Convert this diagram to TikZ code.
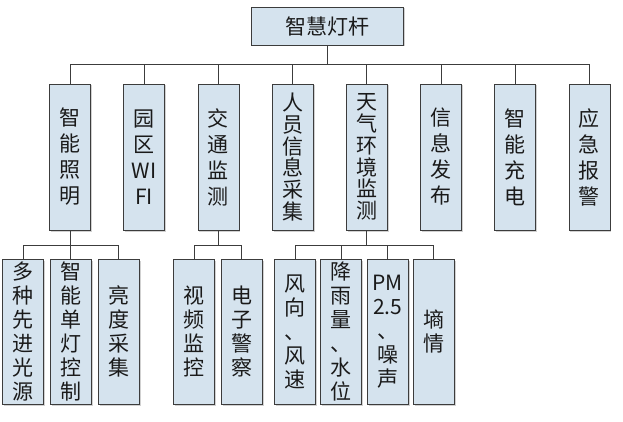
\documentclass[tikz,border=0pt]{standalone}
\usepackage{fontspec}
\usepackage{tikz}
\usetikzlibrary{positioning,shadows}
\newfontfamily\cjkfont{Noto Sans CJK SC}
\definecolor{LampFill}{HTML}{D5E3EE}
\definecolor{LampLine}{HTML}{3C3C3C}
\definecolor{LampInk}{HTML}{1A1A1A}

\begin{document}
\begin{tikzpicture}[x=1pt, y=-1pt,
    node distance=32.4pt,
    box/.style={draw=LampLine, line width=0.8pt, fill=LampFill, inner sep=0pt,
      align=center, text=LampInk,
      drop shadow={shadow xshift=1.5pt, shadow yshift=-1.5pt, fill=black!30, opacity=0.6},
      font=\cjkfont\fontsize{21}{26}\selectfont},
    rootbox/.style={box, minimum width=152pt, minimum height=38pt},
    branch/.style={box, minimum width=41pt, minimum height=146pt},
    tight/.style={font=\cjkfont\fontsize{21}{21.8}\selectfont},
    leaf/.style={box, minimum width=41pt, minimum height=145pt,
      font=\cjkfont\fontsize{21}{24}\selectfont},
    link/.style={draw=LampLine, line width=1pt}
  ]
    \useasboundingbox (0,0) rectangle (623,422);

    \node[rootbox] (root) at (327,26) {智慧灯杆};

    % second level
    \node[branch] (light) at (70,157) {智\\能\\照\\明};
    \node[branch, right=of light] (wifi) {园\\区\\WI\\FI};
    \node[branch, right=of wifi] (traffic) {交\\通\\监\\测};
    \node[branch, tight, right=of traffic] (people) {人\\员\\信\\息\\采\\集};
    \node[branch, tight, right=of people] (weather) {天\\气\\环\\境\\监\\测};
    \node[branch, right=of weather] (info) {信\\息\\发\\布};
    \node[branch, right=of info] (charge) {智\\能\\充\\电};
    \node[branch, right=of charge] (alarm) {应\\急\\报\\警};

    % third level
    \node[leaf] (src) at (23,331.5) {多\\种\\先\\进\\光\\源};
    \node[leaf, right=6pt of src] (ctrl) {智\\能\\单\\灯\\控\\制};
    \node[leaf, right=6pt of ctrl] (bright) {亮\\度\\采\\集};

    \node[leaf] (video) at (194,331.5) {视\\频\\监\\控};
    \node[leaf, right=6pt of video] (police) {电\\子\\警\\察};

    \node[leaf] (wind) at (295,331.5) {风\\向\\、\\风\\速};
    \node[leaf, right=4.5pt of wind] (rain) {降\\雨\\量\\、\\水\\位};
    \node[leaf, right=4.5pt of rain] (pm) {PM\\2.5\\、\\噪\\声};
    \node[leaf, right=4.5pt of pm] (soil) {墒\\情};

    \foreach \n in {light,wifi,traffic,people,weather,info,charge,alarm}
      \draw[link] (root.south) -- ++(0,19) -| (\n.north);
    \foreach \n in {src,ctrl,bright}
      \draw[link] (light.south) -- ++(0,15) -| (\n.north);
    \foreach \n in {video,police}
      \draw[link] (traffic.south) -- ++(0,15) -| (\n.north);
    \foreach \n in {wind,rain,pm,soil}
      \draw[link] (weather.south) -- ++(0,15) -| (\n.north);
  \end{tikzpicture}
\end{document}
